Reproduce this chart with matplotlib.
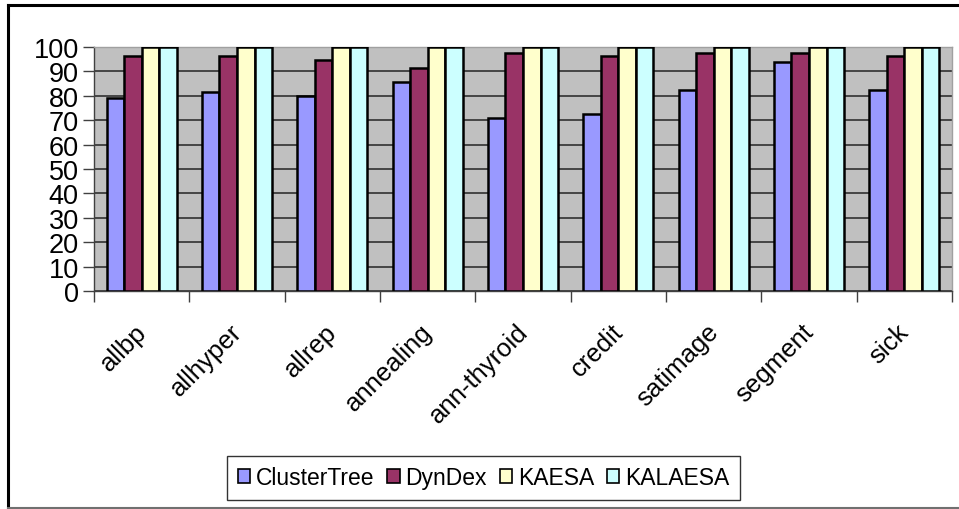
import matplotlib
matplotlib.use("Agg")
import matplotlib.pyplot as plt
import numpy as np

categories = ["allbp", "allhyper", "allrep", "annealing", "ann-thyroid",
              "credit", "satimage", "segment", "sick"]
clustertree = [79.1, 81.7, 80.0, 85.8, 71.0, 72.5, 82.4, 94.0, 82.4]
dyndex = [96.4, 96.4, 94.8, 91.5, 97.4, 96.4, 97.4, 97.4, 96.4]
kaesa = [100, 100, 100, 100, 100, 100, 100, 100, 100]
kalaesa = [100, 100, 100, 100, 100, 100, 100, 100, 100]
series_names = ["ClusterTree", "DynDex", "KAESA", "KALAESA"]
colors = ["#9999FF", "#993366", "#FFFFCC", "#CCFFFF"]
yticks = [0, 10, 20, 30, 40, 50, 60, 70, 80, 90, 100]

plt.rcParams['font.family'] = ['Liberation Sans', 'DejaVu Sans']

W, H = 959, 510
fig = plt.figure(figsize=(W / 100, H / 100), dpi=100)
ax = fig.add_axes([94 / W, 1 - 292 / H, (952 - 94) / W, (292 - 48) / H])

ax.set_facecolor("#C0C0C0")
n = len(categories)
x = np.arange(n)
bw = 0.184
data = [clustertree, dyndex, kaesa, kalaesa]
for i, (vals, c, name) in enumerate(zip(data, colors, series_names)):
    ax.bar(x + (i - 1.5) * bw, vals, width=bw, color=c, edgecolor="black",
           linewidth=1.8, label=name, zorder=3)

ax.set_xlim(-0.5, n - 0.5)
ax.set_ylim(0, 100)
ax.set_yticks(yticks)
ax.set_yticklabels([str(v) for v in yticks], fontsize=19.5)
ax.yaxis.grid(True, color="#303030", linewidth=1.2, zorder=1)
ax.set_axisbelow(True)

# category boundary ticks
ax.set_xticks(np.arange(-0.5, n, 1.0))
ax.set_xticklabels([])
ax.tick_params(axis="x", length=8, width=1, color="#404040")
ax.tick_params(axis="y", length=8, width=1, color="#404040", pad=3)
for k, lab in enumerate(categories):
    ax.text(k - 0.08, -11.5, lab, rotation=45, ha="right", va="top",
            rotation_mode="anchor", fontsize=18.5, transform=ax.transData)

for s in ["top", "right"]:
    ax.spines[s].set_color("#A0A0A0")
    ax.spines[s].set_linewidth(1)
for s in ["left", "bottom"]:
    ax.spines[s].set_color("#404040")
    ax.spines[s].set_linewidth(1)

leg = fig.legend(loc="center", bbox_to_anchor=(483.5 / W, 1 - 479 / H),
                 ncol=4, fontsize=16.5, frameon=True, fancybox=False,
                 handlelength=0.55, handleheight=0.55, handletextpad=0.25,
                 columnspacing=0.55, borderpad=0.45, borderaxespad=0)
leg.get_frame().set_edgecolor("black")
leg.get_frame().set_linewidth(1)
for p in leg.get_patches():
    p.set_linewidth(1.2)

# outer chart frame
fig.add_artist(plt.Line2D([8 / W, 8 / W], [1 - 6 / H, 1 - 509 / H],
                          transform=fig.transFigure, color="black", linewidth=2.2))
fig.add_artist(plt.Line2D([8 / W, 1], [1 - 6 / H, 1 - 6 / H],
                          transform=fig.transFigure, color="black", linewidth=2.2))
fig.add_artist(plt.Line2D([8 / W, 1], [1 - 509 / H, 1 - 509 / H],
                          transform=fig.transFigure, color="#707070", linewidth=1.5))

fig.savefig("out.png", dpi=100)
